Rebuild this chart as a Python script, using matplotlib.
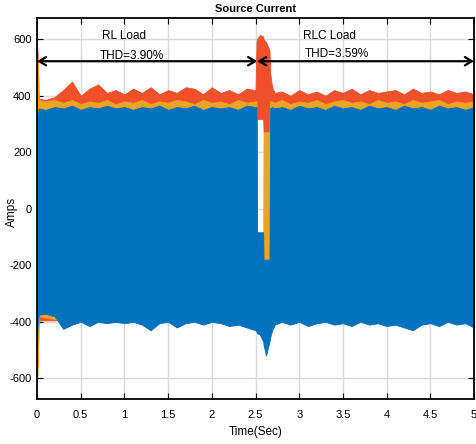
"""
Source current of the three-phase system, RL load then RLC load.
Each phase is drawn as the envelope read off the original scope plot.
"""

import matplotlib
matplotlib.use("Agg")
import matplotlib.pyplot as plt
import numpy as np

plt.rcParams["font.family"] = ["Liberation Sans", "DejaVu Sans"]
plt.rcParams["axes.unicode_minus"] = False

# envelope knots (s)
t_knots = [
    0.00, 0.005, 0.02, 0.1, 0.2, 0.3, 0.4, 0.5, 0.6, 0.7, 0.8, 0.9, 1.0,
    1.1, 1.2, 1.3, 1.4, 1.5, 1.6, 1.7, 1.8, 1.9, 2.0, 2.1, 2.2, 2.3, 2.4, 2.5,
    2.512, 2.516, 2.55, 2.588, 2.592, 2.62, 2.66, 2.668, 2.69, 2.72,
    2.8, 2.9, 3.0, 3.1, 3.2, 3.3, 3.4, 3.5, 3.6, 3.7, 3.8, 3.9, 4.0,
    4.1, 4.2, 4.3, 4.4, 4.5, 4.6, 4.7, 4.8, 4.9, 5.0,
]

# phase b (red) upper / lower envelope (A)
red_hi = [
    560, 560, 390, 385, 395, 420, 450, 400, 425, 440, 410, 420, 405,
    425, 410, 430, 405, 420, 410, 430, 425, 405, 430, 410, 420, 405, 425, 420,
    590, 600, 615, 610, 600, 590, 560, 480, 430, 410,
    415, 400, 420, 405, 415, 400, 420, 410, 425, 405, 420, 410, 415,
    420, 405, 425, 410, 415, 405, 420, 410, 415, 405,
]
red_lo = [
    -560, -560, -395, -395, -395, -390, -390, -390, -390, -390, -390, -390, -390,
    -390, -390, -390, -390, -390, -390, -390, -390, -390, -390, -390, -390, -390, -390, -390,
    -390, 317, 317, 317, 271, 271, 271, -390, -390, -390,
    -390, -390, -390, -390, -390, -390, -390, -390, -390, -390, -390, -390, -390,
    -390, -390, -390, -390, -390, -390, -390, -390, -390, -390,
]

# phase c (orange)
org_hi = [
    540, 540, 385, 380, 385, 375, 385, 370, 380, 375, 385, 370, 380,
    375, 385, 370, 380, 375, 385, 380, 370, 385, 375, 380, 370, 385, 375, 380,
    380, -100, -100, -100, 271, 271, 271, 380, 380, 375,
    385, 370, 380, 375, 385, 370, 380, 385, 375, 380, 370, 385, 375,
    380, 370, 385, 375, 380, 385, 370, 380, 375, 380,
]
org_lo = [
    -590, -590, -380, -385, -390, -395, -395, -390, -395, -390, -395, -390, -395,
    -390, -395, -390, -395, -390, -395, -390, -395, -390, -395, -390, -395, -390, -395, -395,
    -395, -400, -400, -400, -400, -400, -400, -395, -395, -395,
    -390, -395, -390, -395, -390, -395, -390, -395, -390, -395, -390, -395, -390,
    -395, -390, -395, -390, -395, -390, -395, -390, -395, -390,
]

# phase a (blue)
blu_hi = [
    330, 330, 355, 350, 360, 355, 365, 350, 360, 355, 365, 355, 360,
    350, 360, 355, 365, 350, 360, 355, 365, 350, 360, 355, 360, 350, 365, 360,
    360, -83, -83, -83, -180, -180, -180, 355, 360, 355,
    360, 350, 365, 355, 360, 350, 365, 355, 360, 350, 365, 355, 360,
    350, 365, 355, 360, 350, 365, 355, 360, 350, 360,
]
blu_lo = [
    -500, -420, -375, -372, -380, -425, -410, -400, -415, -400, -405, -400, -405,
    -400, -410, -430, -405, -400, -420, -405, -400, -410, -400, -405, -415, -410, -420, -430,
    -435, -440, -445, -470, -480, -520, -470, -455, -430, -410,
    -400, -410, -400, -415, -405, -400, -410, -405, -415, -400, -410, -405, -415,
    -410, -420, -430, -410, -405, -415, -400, -410, -405, -420,
]

y_ticks = [-600, -400, -200, 0, 200, 400, 600]
x_ticks = [0, 0.5, 1, 1.5, 2, 2.5, 3, 3.5, 4, 4.5, 5]
x_tick_labels = ["0", "0.5", "1", "1.5", "2", "2.5", "3", "3.5", "4", "4.5", "5"]

BLUE = "#0072BD"
RED = "#F0502A"
ORANGE = "#EDA323"

fig = plt.figure(figsize=(4.77, 4.44), dpi=100)
ax = fig.add_axes([0.0776, 0.1014, 0.9161, 0.8581])

t = np.array(t_knots)
ax.fill_between(t, red_lo, red_hi, color=RED, lw=0.6, zorder=2)
ax.fill_between(t, org_lo, org_hi, color=ORANGE, lw=0.6, zorder=3)
ax.fill_between(t, blu_lo, blu_hi, color=BLUE, lw=0.6, zorder=4)

# load-change annotations
arrow_y = 522
arrow_kw = dict(arrowstyle="<->,head_length=0.5,head_width=0.3", color="black", lw=1.6,
                shrinkA=0, shrinkB=0)
ax.annotate("", xy=(0.0, arrow_y), xytext=(2.52, arrow_y), arrowprops=arrow_kw, zorder=6)
ax.annotate("", xy=(2.52, arrow_y), xytext=(5.0, arrow_y), arrowprops=arrow_kw, zorder=6)
ax.text(0.74, 612, "RL Load", fontsize=8.5, ha="left", va="center", zorder=7)
ax.text(0.72, 542, "THD=3.90%", fontsize=8.5, ha="left", va="center", zorder=7)
ax.text(3.04, 612, "RLC Load", fontsize=8.5, ha="left", va="center", zorder=7)
ax.text(3.06, 548, "THD=3.59%", fontsize=8.5, ha="left", va="center", zorder=7)

ax.set_xlim(0, 5)
ax.set_ylim(-673, 675)
ax.set_xticks(x_ticks)
ax.set_xticklabels(x_tick_labels)
ax.set_yticks(y_ticks)
ax.tick_params(direction="in", top=True, right=True, length=4, labelsize=8)
ax.tick_params(axis="x", pad=8)
ax.tick_params(axis="y", pad=4)
ax.grid(True, color="#DADADA", lw=1.0, zorder=0)
ax.set_axisbelow(True)
for sp in ax.spines.values():
    sp.set_linewidth(1.3)
    sp.set_zorder(8)

ax.set_title("Source Current", fontsize=8, fontweight="bold", pad=4)
ax.set_xlabel("Time(Sec)", fontsize=8.5, labelpad=4)
ax.set_ylabel("Amps", fontsize=8.5, ha="center", va="center")
ax.yaxis.set_label_coords(-0.058, 0.49)

fig.savefig("out.png", dpi=100)
